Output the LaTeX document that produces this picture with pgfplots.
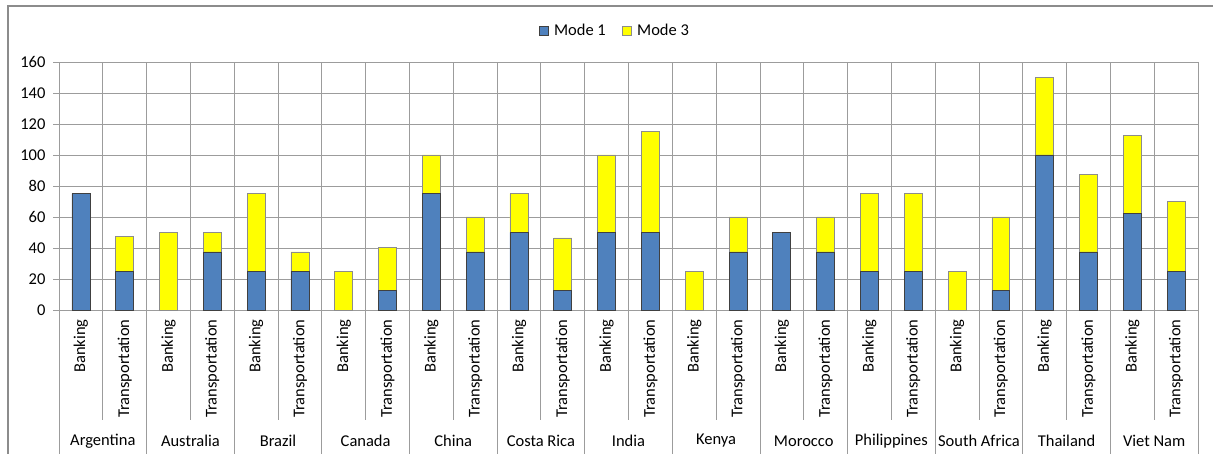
\documentclass[border=0pt]{standalone}
\usepackage{fontspec}
\setmainfont{Carlito}
\usepackage{pgfplots}
\usepackage{pgfplotstable}
\pgfplotsset{compat=1.18}

\definecolor{modeone}{HTML}{4F81BD}
\definecolor{modethree}{HTML}{FFFF00}
\definecolor{gridgray}{HTML}{9C9C9C}
\definecolor{framegray}{HTML}{8C8C8C}
\newcommand\cf{\fontsize{16.5}{19}\selectfont}

% number of commitments per country and sector, by mode of supply
\pgfplotstableread{
x  m1    m3
1  75    0
2  25    22.5
3  0     50
4  37.5  12.5
5  25    50
6  25    12.5
7  0     25
8  12.5  28
9  75    25
10 37.5  22.5
11 50    25
12 12.5  34
13 50    50
14 50    65
15 0     25
16 37.5  22.5
17 50    0
18 37.5  22.5
19 25    50
20 25    50
21 0     25
22 12.5  47.5
23 100   50
24 37.5  50
25 62.5  50
26 25    45
}\modes

\begin{document}
\begin{tikzpicture}[x=1pt,y=1pt]
\useasboundingbox (0,0) rectangle (1213,454);
\draw[framegray, line width=1.3pt] (8,0) -- (8,448) -- (1213,448);
\begin{axis}[
  at={(59pt,144pt)}, anchor=south west,
  scale only axis, width=1139pt, height=248pt,
  xmin=0.5, xmax=26.5, ymin=0, ymax=160,
  ybar stacked, bar width=0.41,
  xtick={1,...,26},
  xticklabels={Banking,Transportation,Banking,Transportation,Banking,Transportation,
    Banking,Transportation,Banking,Transportation,Banking,Transportation,
    Banking,Transportation,Banking,Transportation,Banking,Transportation,
    Banking,Transportation,Banking,Transportation,Banking,Transportation,
    Banking,Transportation},
  x tick label style={rotate=90, anchor=east, font=\cf},
  x tick style={draw=none},
  minor xtick={1.5,2.5,...,25.5},
  xminorgrids, xmajorgrids=false,
  ytick={0,20,...,160}, ymajorgrids,
  y tick label style={font=\cf, xshift=-4pt},
  /pgf/number format/assume math mode=true,
  tick align=outside, major tick length=6pt,
  y tick style={gridgray},
  ytick pos=left,
  grid style={gridgray, line width=0.8pt},
  minor grid style={gridgray, line width=0.8pt},
  axis line style={gridgray, line width=0.8pt},
  clip=false,
  legend style={at={(0.488,1.125)}, anchor=center, draw=none, fill=none,
    legend columns=2, font=\cf,
    /tikz/every even column/.append style={column sep=14pt}},
]
\addplot[fill=modeone, draw=black!75, line width=0.7pt,
  legend image code/.code={\draw[fill=modeone, draw=black!75] (0pt,-4.5pt) rectangle (9pt,4.5pt);
    \path[draw=none, fill=none] (0pt,0pt) rectangle (13pt,0.1pt);}]
  table[x=x, y=m1] {\modes};
\addlegendentry{Mode 1}
\addplot[fill=modethree, draw=black!45, line width=0.7pt,
  legend image code/.code={\draw[fill=modethree, draw=black!45] (0pt,-4.5pt) rectangle (9pt,4.5pt);
    \path[draw=none, fill=none] (0pt,0pt) rectangle (13pt,0.1pt);}]
  table[x=x, y=m3] {\modes};
\addlegendentry{Mode 3}

% separators below the axis: short ones between sectors, long ones between countries
\pgfplotsinvokeforeach{1.5,3.5,...,25.5}{
  \draw[gridgray, line width=0.8pt] (axis cs:#1,0) -- ([yshift=-110pt]axis cs:#1,0);
}
\pgfplotsinvokeforeach{0.5,2.5,...,26.5}{
  \draw[gridgray, line width=0.8pt] (axis cs:#1,0) -- ([yshift=-144pt]axis cs:#1,0);
}

% country names
\node[font=\cf] at ([yshift=-131pt]axis cs:1.5,0)  {Argentina};
\node[font=\cf] at ([yshift=-131pt]axis cs:3.5,0)  {Australia};
\node[font=\cf] at ([yshift=-131pt]axis cs:5.5,0)  {Brazil};
\node[font=\cf] at ([yshift=-131pt]axis cs:7.5,0)  {Canada};
\node[font=\cf] at ([yshift=-131pt]axis cs:9.5,0)  {China};
\node[font=\cf] at ([yshift=-131pt]axis cs:11.5,0) {Costa Rica};
\node[font=\cf] at ([yshift=-131pt]axis cs:13.5,0) {India};
\node[font=\cf] at ([yshift=-131pt]axis cs:15.5,0) {Kenya};
\node[font=\cf] at ([yshift=-131pt]axis cs:17.5,0) {Morocco};
\node[font=\cf] at ([yshift=-131pt]axis cs:19.5,0) {Philippines};
\node[font=\cf] at ([yshift=-131pt]axis cs:21.5,0) {South Africa};
\node[font=\cf] at ([yshift=-131pt]axis cs:23.5,0) {Thailand};
\node[font=\cf] at ([yshift=-131pt]axis cs:25.5,0) {Viet Nam};
\end{axis}
\end{tikzpicture}
\end{document}
